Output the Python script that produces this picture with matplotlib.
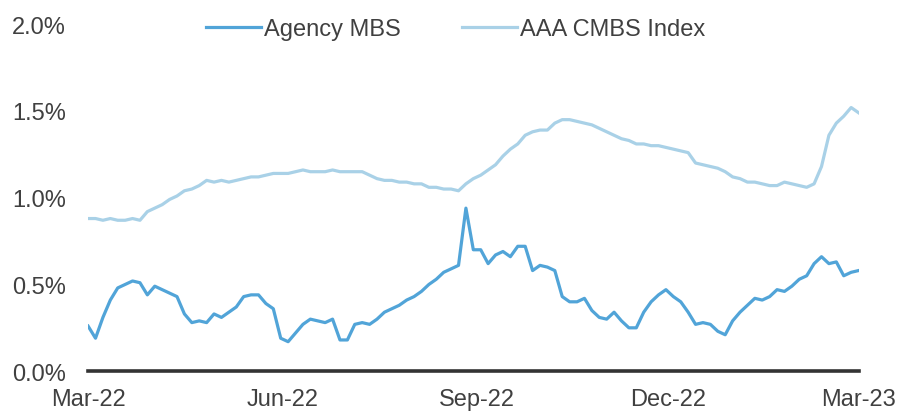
"""Agency MBS vs AAA CMBS index spreads, Mar-22 to Mar-23."""
import numpy as np
import pandas as pd
import matplotlib
matplotlib.use("Agg")
import matplotlib.pyplot as plt
import matplotlib.dates as mdates
from matplotlib.ticker import FuncFormatter

# roughly twice-weekly observations
dates = pd.date_range("2022-03-01", "2023-03-01", periods=105)

agency_mbs = [
    0.26, 0.19, 0.31, 0.41, 0.48, 0.50, 0.52, 0.51, 0.44, 0.49,
    0.47, 0.45, 0.43, 0.33, 0.28, 0.29, 0.28, 0.33, 0.31, 0.34,
    0.37, 0.43, 0.44, 0.44, 0.39, 0.36, 0.19, 0.17, 0.22, 0.27,
    0.30, 0.29, 0.28, 0.30, 0.18, 0.18, 0.27, 0.28, 0.27, 0.30,
    0.34, 0.36, 0.38, 0.41, 0.43, 0.46, 0.50, 0.53, 0.57, 0.59,
    0.61, 0.94, 0.70, 0.70, 0.62, 0.67, 0.69, 0.66, 0.72, 0.72,
    0.58, 0.61, 0.60, 0.58, 0.43, 0.40, 0.40, 0.42, 0.35, 0.31,
    0.30, 0.34, 0.29, 0.25, 0.25, 0.34, 0.40, 0.44, 0.47, 0.43,
    0.40, 0.34, 0.27, 0.28, 0.27, 0.23, 0.21, 0.29, 0.34, 0.38,
    0.42, 0.41, 0.43, 0.47, 0.46, 0.49, 0.53, 0.55, 0.62, 0.66,
    0.62, 0.63, 0.55, 0.57, 0.58,
]

aaa_cmbs = [
    0.88, 0.88, 0.87, 0.88, 0.87, 0.87, 0.88, 0.87, 0.92, 0.94,
    0.96, 0.99, 1.01, 1.04, 1.05, 1.07, 1.10, 1.09, 1.10, 1.09,
    1.10, 1.11, 1.12, 1.12, 1.13, 1.14, 1.14, 1.14, 1.15, 1.16,
    1.15, 1.15, 1.15, 1.16, 1.15, 1.15, 1.15, 1.15, 1.13, 1.11,
    1.10, 1.10, 1.09, 1.09, 1.08, 1.08, 1.06, 1.06, 1.05, 1.05,
    1.04, 1.08, 1.11, 1.13, 1.16, 1.19, 1.24, 1.28, 1.31, 1.36,
    1.38, 1.39, 1.39, 1.43, 1.45, 1.45, 1.44, 1.43, 1.42, 1.40,
    1.38, 1.36, 1.34, 1.33, 1.31, 1.31, 1.30, 1.30, 1.29, 1.28,
    1.27, 1.26, 1.20, 1.19, 1.18, 1.17, 1.15, 1.12, 1.11, 1.09,
    1.09, 1.08, 1.07, 1.07, 1.09, 1.08, 1.07, 1.06, 1.08, 1.18,
    1.36, 1.43, 1.47, 1.52, 1.49,
]

tick_dates = pd.to_datetime(["2022-03-01", "2022-06-01", "2022-09-01",
                             "2022-12-01", "2023-03-01"])
y_ticks = [0.0, 0.5, 1.0, 1.5, 2.0]

plt.rcParams["font.family"] = ["Liberation Sans", "DejaVu Sans"]
text_color = "#404040"

fig = plt.figure(figsize=(8.99, 4.14), dpi=100)
ax = fig.add_axes([0.098, 0.101, 0.857, 0.838])

ax.plot(dates, agency_mbs, color="#51a4d8", linewidth=2.3, label="Agency MBS")
ax.plot(dates, aaa_cmbs, color="#a9d1e7", linewidth=2.3, label="AAA CMBS Index")

ax.set_xlim(dates[0], dates[-1])
ax.set_ylim(0, 2.0)
ax.set_yticks(y_ticks)
ax.yaxis.set_major_formatter(FuncFormatter(lambda v, _: f"{v:.1f}%"))
ax.set_xticks(tick_dates)
ax.xaxis.set_major_formatter(mdates.DateFormatter("%b-%y"))

for side in ("top", "right", "left"):
    ax.spines[side].set_visible(False)
ax.spines["bottom"].set_color("#333333")
ax.spines["bottom"].set_linewidth(2.6)

ax.tick_params(axis="both", length=0, labelsize=17, colors=text_color)
ax.tick_params(axis="y", pad=16)
ax.tick_params(axis="x", pad=12)

fig.legend(loc="center", bbox_to_anchor=(0.507, 0.928), ncol=2,
           frameon=False, fontsize=17, labelcolor=text_color,
           handlelength=2.3, handletextpad=0.15, columnspacing=2.6)

fig.savefig("out.png", dpi=100)
